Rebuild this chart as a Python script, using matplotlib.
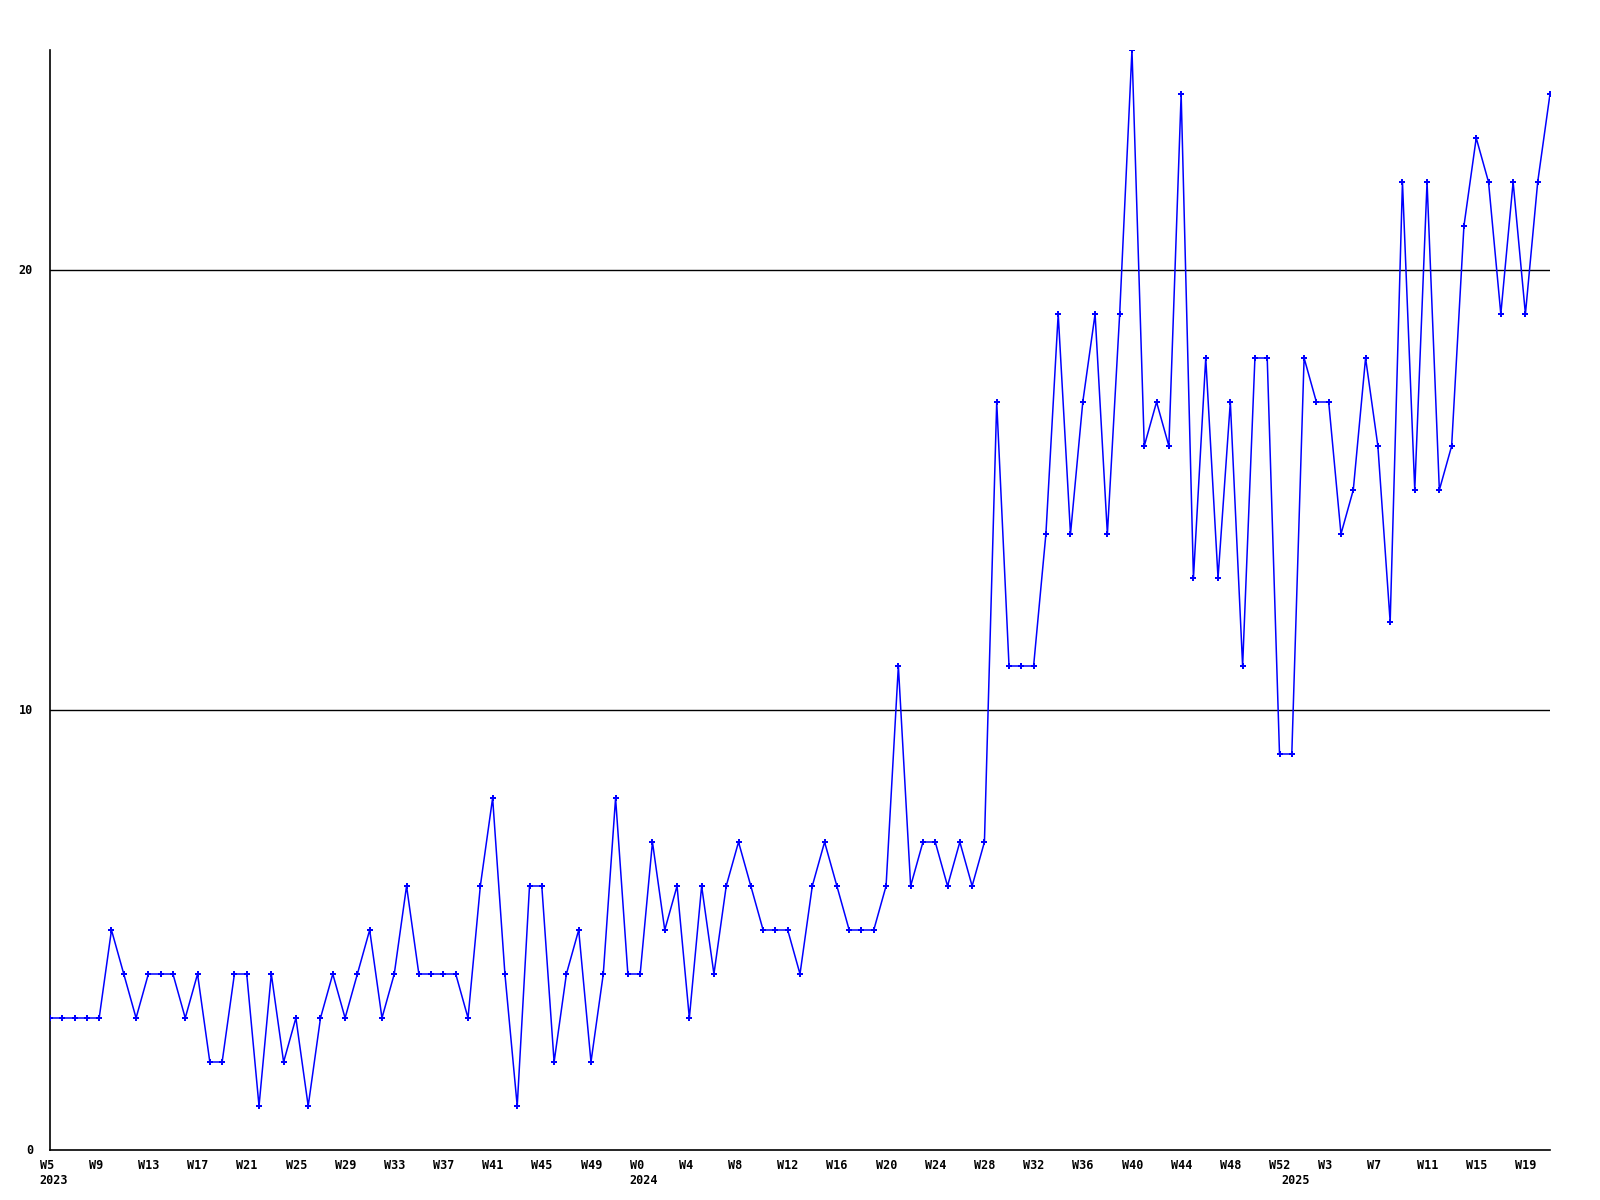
import matplotlib
matplotlib.use("Agg")
import matplotlib.pyplot as plt
import matplotlib.transforms as mtransforms

# weekly values (W5 2023 .. W21 2025)
values = [3, 3, 3, 3, 3, 5, 4, 3, 4, 4, 4, 3, 4, 2, 2, 4, 4, 1, 4, 2,
          3, 1, 3, 4, 3, 4, 5, 3, 4, 6, 4, 4, 4, 4, 3, 6, 8, 4, 1, 6,
          6, 2, 4, 5, 2, 4, 8, 4, 4, 7, 5, 6, 3, 6, 4, 6, 7, 6, 5, 5,
          5, 4, 6, 7, 6, 5, 5, 5, 6, 11, 6, 7, 7, 6, 7, 6, 7, 17, 11, 11,
          11, 14, 19, 14, 17, 19, 14, 19, 25, 16, 17, 16, 24, 13, 18, 13, 17, 11, 18, 18,
          9, 9, 18, 17, 17, 14, 15, 18, 16, 12, 22, 15, 22, 15, 16, 21, 23, 22, 19, 22,
          19, 22, 24]

tick_labels = ["W5", "W9", "W13", "W17", "W21", "W25", "W29", "W33", "W37", "W41",
               "W45", "W49", "W0", "W4", "W8", "W12", "W16", "W20", "W24", "W28",
               "W32", "W36", "W40", "W44", "W48", "W52", "W3", "W7", "W11", "W15", "W19"]
years = ["2023", "2024", "2025"]
year_first_week = [0, 48, 101]   # index of first week of each year in the series
y_ticks = [0, 10, 20]

DPI = 100
fig = plt.figure(figsize=(16, 12), dpi=DPI)
ax = fig.add_axes([50 / 1600, 50 / 1200, 1500 / 1600, 1100 / 1200])

x = list(range(len(values)))
ax.plot(x, values, color="#0000ff", lw=1.1, marker="P", ms=4.2,
        markeredgewidth=0, zorder=3)

ax.set_xlim(0, len(values) - 1)
ax.set_ylim(0, 25)

for s in ["top", "right"]:
    ax.spines[s].set_visible(False)
for s in ["left", "bottom"]:
    ax.spines[s].set_color("black")
    ax.spines[s].set_linewidth(1.2)

for yt in y_ticks[1:]:
    ax.axhline(yt, color="black", lw=1.0, zorder=1)

ax.set_xticks([])
ax.set_yticks([])

font = dict(family="DejaVu Sans Mono", weight="bold", size=8.5, color="black")

# y labels
ytrans = ax.get_yaxis_transform() + mtransforms.ScaledTranslation(-17 / DPI, 0, fig.dpi_scale_trans)
for yt in y_ticks:
    ax.text(0, yt, str(yt), transform=ytrans, ha="right", va="center", **font)

# x labels
step = 4
xtrans = ax.get_xaxis_transform() + mtransforms.ScaledTranslation(-10.4 / DPI, 0, fig.dpi_scale_trans)
for k, lab in enumerate(tick_labels):
    xi = k * step
    ax.text(xi, 0, lab, transform=xtrans + mtransforms.ScaledTranslation(0, -9 / DPI, fig.dpi_scale_trans),
            ha="left", va="top", clip_on=False, **font)
for yr, xi in zip(years, year_first_week):
    ax.text(xi, 0, yr, transform=xtrans + mtransforms.ScaledTranslation(0, -24 / DPI, fig.dpi_scale_trans),
            ha="left", va="top", clip_on=False, **font)

fig.savefig("out.png", dpi=DPI, facecolor="white")
